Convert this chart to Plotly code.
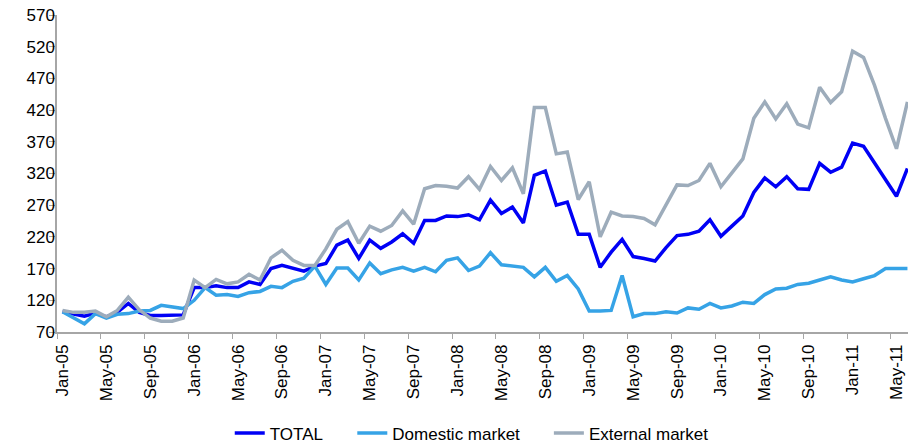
import pandas as pd
import plotly.graph_objects as go

# monthly categories Jan-05 .. Jun-11
months = list(pd.date_range("2005-01-01", periods=78, freq="MS").strftime("%b-%y"))

total = [
    102, 99, 95, 100, 94, 101, 115, 101, 96, 96, 96, 97,
    140, 140, 143, 140, 140, 149, 145, 170, 175, 171, 166, 174,
    178, 207, 215, 186, 215, 202, 212, 225, 210, 246, 246, 253,
    252, 255, 247, 278, 257, 267, 242, 317, 324, 270, 275, 224,
    224, 172, 196, 216, 189, 186, 182, 203, 222, 224, 229, 247,
    221, 237, 253, 290, 313, 299, 315, 296, 295, 336, 322, 330,
    368, 363, 337, 310, 284, 328,
]
domestic = [
    102, 92, 83, 99, 92, 98, 99, 103, 104, 112, 109, 107,
    120, 140, 128, 129, 126, 132, 134, 142, 140, 150, 155, 174,
    145, 171, 171, 152, 179, 162, 168, 172, 166, 172, 165, 183,
    187, 167, 174, 195, 176, 174, 172, 157, 172, 150, 159, 138,
    103, 103, 104, 159, 94, 99, 99, 102, 100, 108, 106, 115,
    108, 111, 117, 115, 129, 138, 139, 145, 147, 152, 157, 152,
    149, 154, 159, 170, 170, 170,
]
external = [
    104, 101, 101, 103, 94, 104, 125, 105, 92, 87, 87, 92,
    152, 140, 153, 146, 149, 161, 152, 187, 199, 183, 175, 175,
    201, 232, 244, 210, 237, 229, 238, 261, 240, 296, 301, 300,
    297, 315, 295, 331, 309, 329, 288, 424, 424, 351, 354, 279,
    307, 220, 259, 253, 252, 249, 239, 271, 302, 301, 309, 336,
    299, 321, 343, 407, 433, 406, 430, 398, 392, 456, 432, 449,
    513, 503, 459, 407, 359, 433,
]

# name, values, colour, legend slot, legend x (paper)
series = [
    ("TOTAL", total, "#0000F5", "legend", 0.203),
    ("Domestic market", domestic, "#36A3E6", "legend2", 0.347),
    ("External market", external, "#9DACBB", "legend3", 0.578),
]

FONT = "Liberation Sans, Arial, sans-serif"
AXIS = "#A6A6A6"

fig = go.Figure()
legends = {}
for name, vals, color, leg, lx in series:
    fig.add_trace(go.Scatter(
        x=months, y=vals, mode="lines", name=name, legend=leg,
        line=dict(color=color, width=3.5),
    ))
    legends[leg] = dict(
        orientation="h", x=lx, xanchor="left", y=-0.32, yanchor="middle",
        font=dict(size=17), itemwidth=30, bgcolor="rgba(0,0,0,0)",
    )

fig.update_layout(
    width=908, height=445,
    template="plotly_white",
    plot_bgcolor="white", paper_bgcolor="white",
    margin=dict(l=57, r=0, t=15, b=113, autoexpand=False),
    font=dict(family=FONT, size=17, color="#000000"),
    showlegend=True,
    xaxis=dict(
        type="category", range=[-0.5, 77.05],
        tickmode="linear", tick0=0, dtick=4, tickson="boundaries",
        tickangle=-90, ticks="outside", ticklen=5, tickcolor=AXIS,
        showline=True, linecolor=AXIS, linewidth=1.5,
        showgrid=False, zeroline=False, ticklabelstandoff=4,
        tickfont=dict(size=17),
    ),
    yaxis=dict(
        range=[70, 570], tickmode="linear", tick0=70, dtick=50,
        ticks="outside", ticklen=6, tickcolor=AXIS,
        showline=True, linecolor=AXIS, linewidth=1.5,
        showgrid=False, zeroline=False, ticklabelstandoff=-9,
        tickfont=dict(size=17),
    ),
    **legends,
)

fig.write_html(
    "out.html",
    config={"displayModeBar": False},
    post_script="document.body.style.margin='0';document.body.style.overflow='hidden';",
)
